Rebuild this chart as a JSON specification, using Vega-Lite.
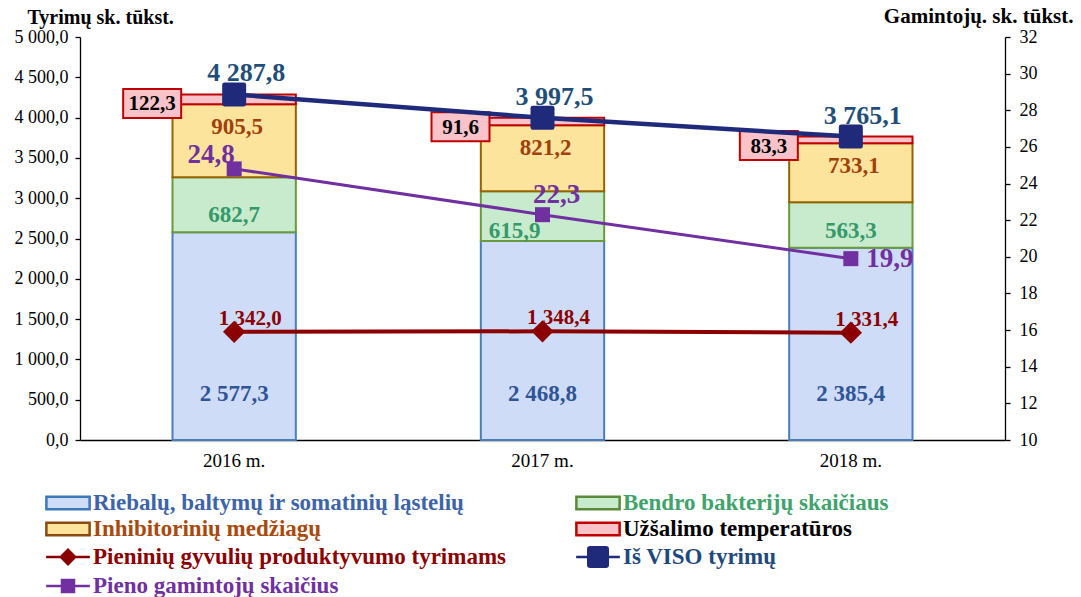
{
  "$schema": "https://vega.github.io/schema/vega-lite/v6.json",
  "width": 925,
  "height": 403,
  "autosize": {"type": "none"},
  "padding": {"left": 80, "top": 37, "right": 76, "bottom": 157},
  "background": "white",
  "config": {
    "font": "Liberation Serif",
    "locale": {"number": {"decimal": ",", "thousands": " ", "grouping": [3], "currency": ["", ""]}},
    "view": {"stroke": null},
    "axis": {"grid": false, "domainColor": "#000000", "tickColor": "#000000", "labelColor": "#000000", "labelFont": "Liberation Serif", "titleFont": "Liberation Serif", "domainWidth": 1.3, "tickWidth": 1.3}
  },
  "datasets": {
    "bars": [
      {"year": "2016 m.", "series": "Riebalų, baltymų ir somatinių ląstelių", "order": 1, "value": 2577.3},
      {"year": "2016 m.", "series": "Bendro bakterijų skaičiaus", "order": 2, "value": 682.7},
      {"year": "2016 m.", "series": "Inhibitorinių medžiagų", "order": 3, "value": 905.5},
      {"year": "2016 m.", "series": "Užšalimo temperatūros", "order": 4, "value": 122.3},
      {"year": "2017 m.", "series": "Riebalų, baltymų ir somatinių ląstelių", "order": 1, "value": 2468.8},
      {"year": "2017 m.", "series": "Bendro bakterijų skaičiaus", "order": 2, "value": 615.9},
      {"year": "2017 m.", "series": "Inhibitorinių medžiagų", "order": 3, "value": 821.2},
      {"year": "2017 m.", "series": "Užšalimo temperatūros", "order": 4, "value": 91.6},
      {"year": "2018 m.", "series": "Riebalų, baltymų ir somatinių ląstelių", "order": 1, "value": 2385.4},
      {"year": "2018 m.", "series": "Bendro bakterijų skaičiaus", "order": 2, "value": 563.3},
      {"year": "2018 m.", "series": "Inhibitorinių medžiagų", "order": 3, "value": 733.1},
      {"year": "2018 m.", "series": "Užšalimo temperatūros", "order": 4, "value": 83.3}
    ],
    "lines": [
      {"year": "2016 m.", "total": 4287.8, "prod": 1342.0, "producers": 24.8},
      {"year": "2017 m.", "total": 3997.5, "prod": 1348.4, "producers": 22.3},
      {"year": "2018 m.", "total": 3765.1, "prod": 1331.4, "producers": 19.9}
    ]
  },
  "encoding": {
    "x": {"field": "year", "type": "nominal", "sort": null, "scale": {"paddingInner": 0, "paddingOuter": 0},
      "axis": {"title": null, "labelAngle": 0, "ticks": false, "labelFontSize": 19, "labelPadding": 11, "domainWidth": 1.3}}
  },
  "layer": [
    {
      "layer": [
        {
          "data": {"name": "bars"},
          "mark": {"type": "bar", "width": {"band": 0.4}, "strokeWidth": 2},
          "encoding": {
            "y": {"field": "value", "type": "quantitative", "stack": "zero", "title": "Tyrimų sk. tūkst.", "scale": {"domain": [0, 5000], "nice": false},
              "axis": {"titleAngle": 0, "titleX": -53, "titleY": -14, "titleAlign": "left", "titleBaseline": "alphabetic", "titleFontSize": 20, "titleFontWeight": "bold", "titleColor": "#000000", "labelFontSize": 18, "format": ",.1f", "tickCount": 10, "tickSize": 5, "labelPadding": 7}},
            "order": {"field": "order", "type": "quantitative"},
            "fill": {"field": "series", "type": "nominal",
              "scale": {"domain": ["Riebalų, baltymų ir somatinių ląstelių", "Bendro bakterijų skaičiaus", "Inhibitorinių medžiagų", "Užšalimo temperatūros", "Pieninių gyvulių produktyvumo tyrimams", "Iš VISO tyrimų", "Pieno gamintojų skaičius"],
                "range": ["#cfdcf8", "#c8ebce", "#fde49c", "#f9c3c9", "#8b0000", "#1f2a7b", "#7030a0"]},
              "legend": {
                "title": null, "orient": "none", "legendX": -35, "legendY": 453, "columns": 2, "direction": "horizontal", "columnPadding": 64, "rowPadding": 1, "padding": 0,
                "symbolSize": 529, "symbolStrokeWidth": 2.5, "symbolOffset": 10, "labelFont": "Liberation Serif", "labelFontSize": 23, "labelFontWeight": "bold", "labelOffset": 12, "labelLimit": 600,
                "encode": {
                  "symbols": {"update": {
                    "shape": {"signal": "['M-1.88,-0.55H1.88V0.55H-1.88Z','M-1.88,-0.55H1.88V0.55H-1.88Z','M-1.88,-0.55H1.88V0.55H-1.88Z','M-1.88,-0.55H1.88V0.55H-1.88Z','M-1.9,0H1.9M-0.62,0L0,-0.62L0.62,0L0,0.62Z','M-1.9,0H1.9M-0.68,-0.85H0.68Q0.85,-0.85 0.85,-0.68V0.68Q0.85,0.85 0.68,0.85H-0.68Q-0.85,0.85 -0.85,0.68V-0.68Q-0.85,-0.85 -0.68,-0.85Z','M-1.9,0H1.9M-0.52,-0.52H0.52V0.52H-0.52Z'][datum.index]"},
                    "fill": {"signal": "['#c3d4f6','#9fd8a8','#f0cc60','#f8bcc2','#8b0000','#1f2a7b','#7030a0'][datum.index]"},
                    "stroke": {"signal": "['#3c78bc','#5a8a3a','#8c4a10','#c00000','#8b0000','#1f2a7b','#7030a0'][datum.index]"},
                    "opacity": {"value": 1}
                  }},
                  "labels": {"update": {
                    "fill": {"signal": "['#3d64a8','#3fa36b','#a84a0e','#000000','#8b0000','#1f497d','#7030a0'][datum.index]"}
                  }}
                }
              }},
            "stroke": {"field": "series", "type": "nominal", "legend": null,
              "scale": {"domain": ["Riebalų, baltymų ir somatinių ląstelių", "Bendro bakterijų skaičiaus", "Inhibitorinių medžiagų", "Užšalimo temperatūros"],
                "range": ["#4a7ebb", "#6a9a3e", "#946400", "#c00000"]}}
          }
        },
        {
          "data": {"name": "bars"},
          "transform": [
            {"stack": "value", "groupby": ["year"], "sort": [{"field": "order", "order": "ascending"}], "as": ["v0", "v1"]},
            {"filter": "datum.order === 1"}
          ],
          "mark": {"type": "text", "dy": -46, "fontSize": 23, "fontWeight": "bold", "color": "#2f5597"},
          "encoding": {
            "y": {"field": "v0", "type": "quantitative", "title": "Tyrimų sk. tūkst."},
            "text": {"field": "value", "type": "quantitative", "format": ",.1f"}
          }
        },
        {
          "data": {"name": "bars"},
          "transform": [
            {"stack": "value", "groupby": ["year"], "sort": [{"field": "order", "order": "ascending"}], "as": ["v0", "v1"]},
            {"filter": "datum.order === 2 && datum.year !== '2017 m.'"}
          ],
          "mark": {"type": "text", "dy": -17, "fontSize": 23, "fontWeight": "bold", "color": "#35996a"},
          "encoding": {
            "y": {"field": "v0", "type": "quantitative", "title": "Tyrimų sk. tūkst."},
            "text": {"field": "value", "type": "quantitative", "format": ",.1f"}
          }
        },
        {
          "data": {"name": "bars"},
          "transform": [
            {"stack": "value", "groupby": ["year"], "sort": [{"field": "order", "order": "ascending"}], "as": ["v0", "v1"]},
            {"filter": "datum.order === 2 && datum.year === '2017 m.'"}
          ],
          "mark": {"type": "text", "dy": -10, "dx": -28, "fontSize": 23, "fontWeight": "bold", "color": "#35996a"},
          "encoding": {
            "y": {"field": "v0", "type": "quantitative", "title": "Tyrimų sk. tūkst."},
            "text": {"field": "value", "type": "quantitative", "format": ",.1f"}
          }
        },
        {
          "data": {"name": "bars"},
          "transform": [
            {"stack": "value", "groupby": ["year"], "sort": [{"field": "order", "order": "ascending"}], "as": ["v0", "v1"]},
            {"filter": "datum.order === 3"}
          ],
          "mark": {"type": "text", "dy": 23, "dx": 3, "fontSize": 23, "fontWeight": "bold", "color": "#a0400a"},
          "encoding": {
            "y": {"field": "v1", "type": "quantitative", "title": "Tyrimų sk. tūkst."},
            "text": {"field": "value", "type": "quantitative", "format": ",.1f"}
          }
        },
        {
          "data": {"name": "bars"},
          "transform": [
            {"stack": "value", "groupby": ["year"], "sort": [{"field": "order", "order": "ascending"}], "as": ["v0", "v1"]},
            {"filter": "datum.order === 4"}
          ],
          "mark": {"type": "point", "shape": "M-1,-0.5H1V0.5H-1Z", "size": 3364, "filled": true, "fill": "#f9c3c9", "stroke": "#c00000", "strokeWidth": 2, "opacity": 1, "xOffset": -82, "yOffset": 9},
          "encoding": {
            "y": {"field": "v1", "type": "quantitative", "title": "Tyrimų sk. tūkst."}
          }
        },
        {
          "data": {"name": "bars"},
          "transform": [
            {"stack": "value", "groupby": ["year"], "sort": [{"field": "order", "order": "ascending"}], "as": ["v0", "v1"]},
            {"filter": "datum.order === 4"}
          ],
          "mark": {"type": "text", "dx": -82, "dy": 10, "fontSize": 21, "fontWeight": "bold", "color": "#000000"},
          "encoding": {
            "y": {"field": "v1", "type": "quantitative", "title": "Tyrimų sk. tūkst."},
            "text": {"field": "value", "type": "quantitative", "format": ",.1f"}
          }
        },
        {
          "data": {"name": "lines"},
          "mark": {"type": "line", "color": "#8b0000", "strokeWidth": 4},
          "encoding": {"y": {"field": "prod", "type": "quantitative", "title": "Tyrimų sk. tūkst."}}
        },
        {
          "data": {"name": "lines"},
          "mark": {"type": "point", "shape": "diamond", "size": 500, "filled": true, "color": "#8b0000", "opacity": 1},
          "encoding": {"y": {"field": "prod", "type": "quantitative", "title": "Tyrimų sk. tūkst."}}
        },
        {
          "data": {"name": "lines"},
          "mark": {"type": "text", "dx": 16, "dy": -13, "fontSize": 21, "fontWeight": "bold", "color": "#8b0000"},
          "encoding": {
            "y": {"field": "prod", "type": "quantitative", "title": "Tyrimų sk. tūkst."},
            "text": {"field": "prod", "type": "quantitative", "format": ",.1f"}
          }
        },
        {
          "data": {"name": "lines"},
          "mark": {"type": "line", "color": "#1f2a7b", "strokeWidth": 4.5},
          "encoding": {"y": {"field": "total", "type": "quantitative", "title": "Tyrimų sk. tūkst."}}
        },
        {
          "data": {"name": "lines"},
          "mark": {"type": "point", "shape": "M-0.8,-1H0.8Q1,-1 1,-0.8V0.8Q1,1 0.8,1H-0.8Q-1,1 -1,0.8V-0.8Q-1,-1 -0.8,-1Z", "size": 576, "filled": true, "color": "#1f2a7b", "opacity": 1},
          "encoding": {"y": {"field": "total", "type": "quantitative", "title": "Tyrimų sk. tūkst."}}
        },
        {
          "data": {"name": "lines"},
          "mark": {"type": "text", "dx": 12, "dy": -21, "fontSize": 26, "fontWeight": "bold", "color": "#1f4e79"},
          "encoding": {
            "y": {"field": "total", "type": "quantitative", "title": "Tyrimų sk. tūkst."},
            "text": {"field": "total", "type": "quantitative", "format": ",.1f"}
          }
        }
      ]
    },
    {
      "layer": [
        {
          "data": {"name": "lines"},
          "mark": {"type": "line", "color": "#7030a0", "strokeWidth": 3},
          "encoding": {
            "y": {"field": "producers", "type": "quantitative", "title": "Gamintojų. sk. tūkst.", "scale": {"domain": [10, 32], "nice": false},
              "axis": {"orient": "right", "titleAngle": 0, "titleX": 68, "titleY": -15, "titleAlign": "right", "titleBaseline": "alphabetic", "titleFontSize": 21, "titleFontWeight": "bold", "titleColor": "#000000", "labelFontSize": 18, "format": "d", "tickCount": 11, "tickSize": 5, "labelPadding": 9}}
          }
        },
        {
          "data": {"name": "lines"},
          "mark": {"type": "point", "shape": "square", "size": 225, "filled": true, "color": "#7030a0", "opacity": 1},
          "encoding": {"y": {"field": "producers", "type": "quantitative", "title": "Gamintojų. sk. tūkst."}}
        },
        {
          "data": {"name": "lines"},
          "transform": [{"filter": "datum.year === '2016 m.'"}],
          "mark": {"type": "text", "dx": -23, "dy": -14, "fontSize": 27, "fontWeight": "bold", "color": "#7030a0"},
          "encoding": {
            "y": {"field": "producers", "type": "quantitative", "title": "Gamintojų. sk. tūkst."},
            "text": {"field": "producers", "type": "quantitative", "format": ",.1f"}
          }
        },
        {
          "data": {"name": "lines"},
          "transform": [{"filter": "datum.year === '2017 m.'"}],
          "mark": {"type": "text", "dx": 14, "dy": -20, "fontSize": 27, "fontWeight": "bold", "color": "#7030a0"},
          "encoding": {
            "y": {"field": "producers", "type": "quantitative", "title": "Gamintojų. sk. tūkst."},
            "text": {"field": "producers", "type": "quantitative", "format": ",.1f"}
          }
        },
        {
          "data": {"name": "lines"},
          "transform": [{"filter": "datum.year === '2018 m.'"}],
          "mark": {"type": "text", "dx": 39, "dy": 0, "fontSize": 27, "fontWeight": "bold", "color": "#7030a0"},
          "encoding": {
            "y": {"field": "producers", "type": "quantitative", "title": "Gamintojų. sk. tūkst."},
            "text": {"field": "producers", "type": "quantitative", "format": ",.1f"}
          }
        }
      ]
    }
  ],
  "resolve": {"scale": {"y": "independent"}}
}
